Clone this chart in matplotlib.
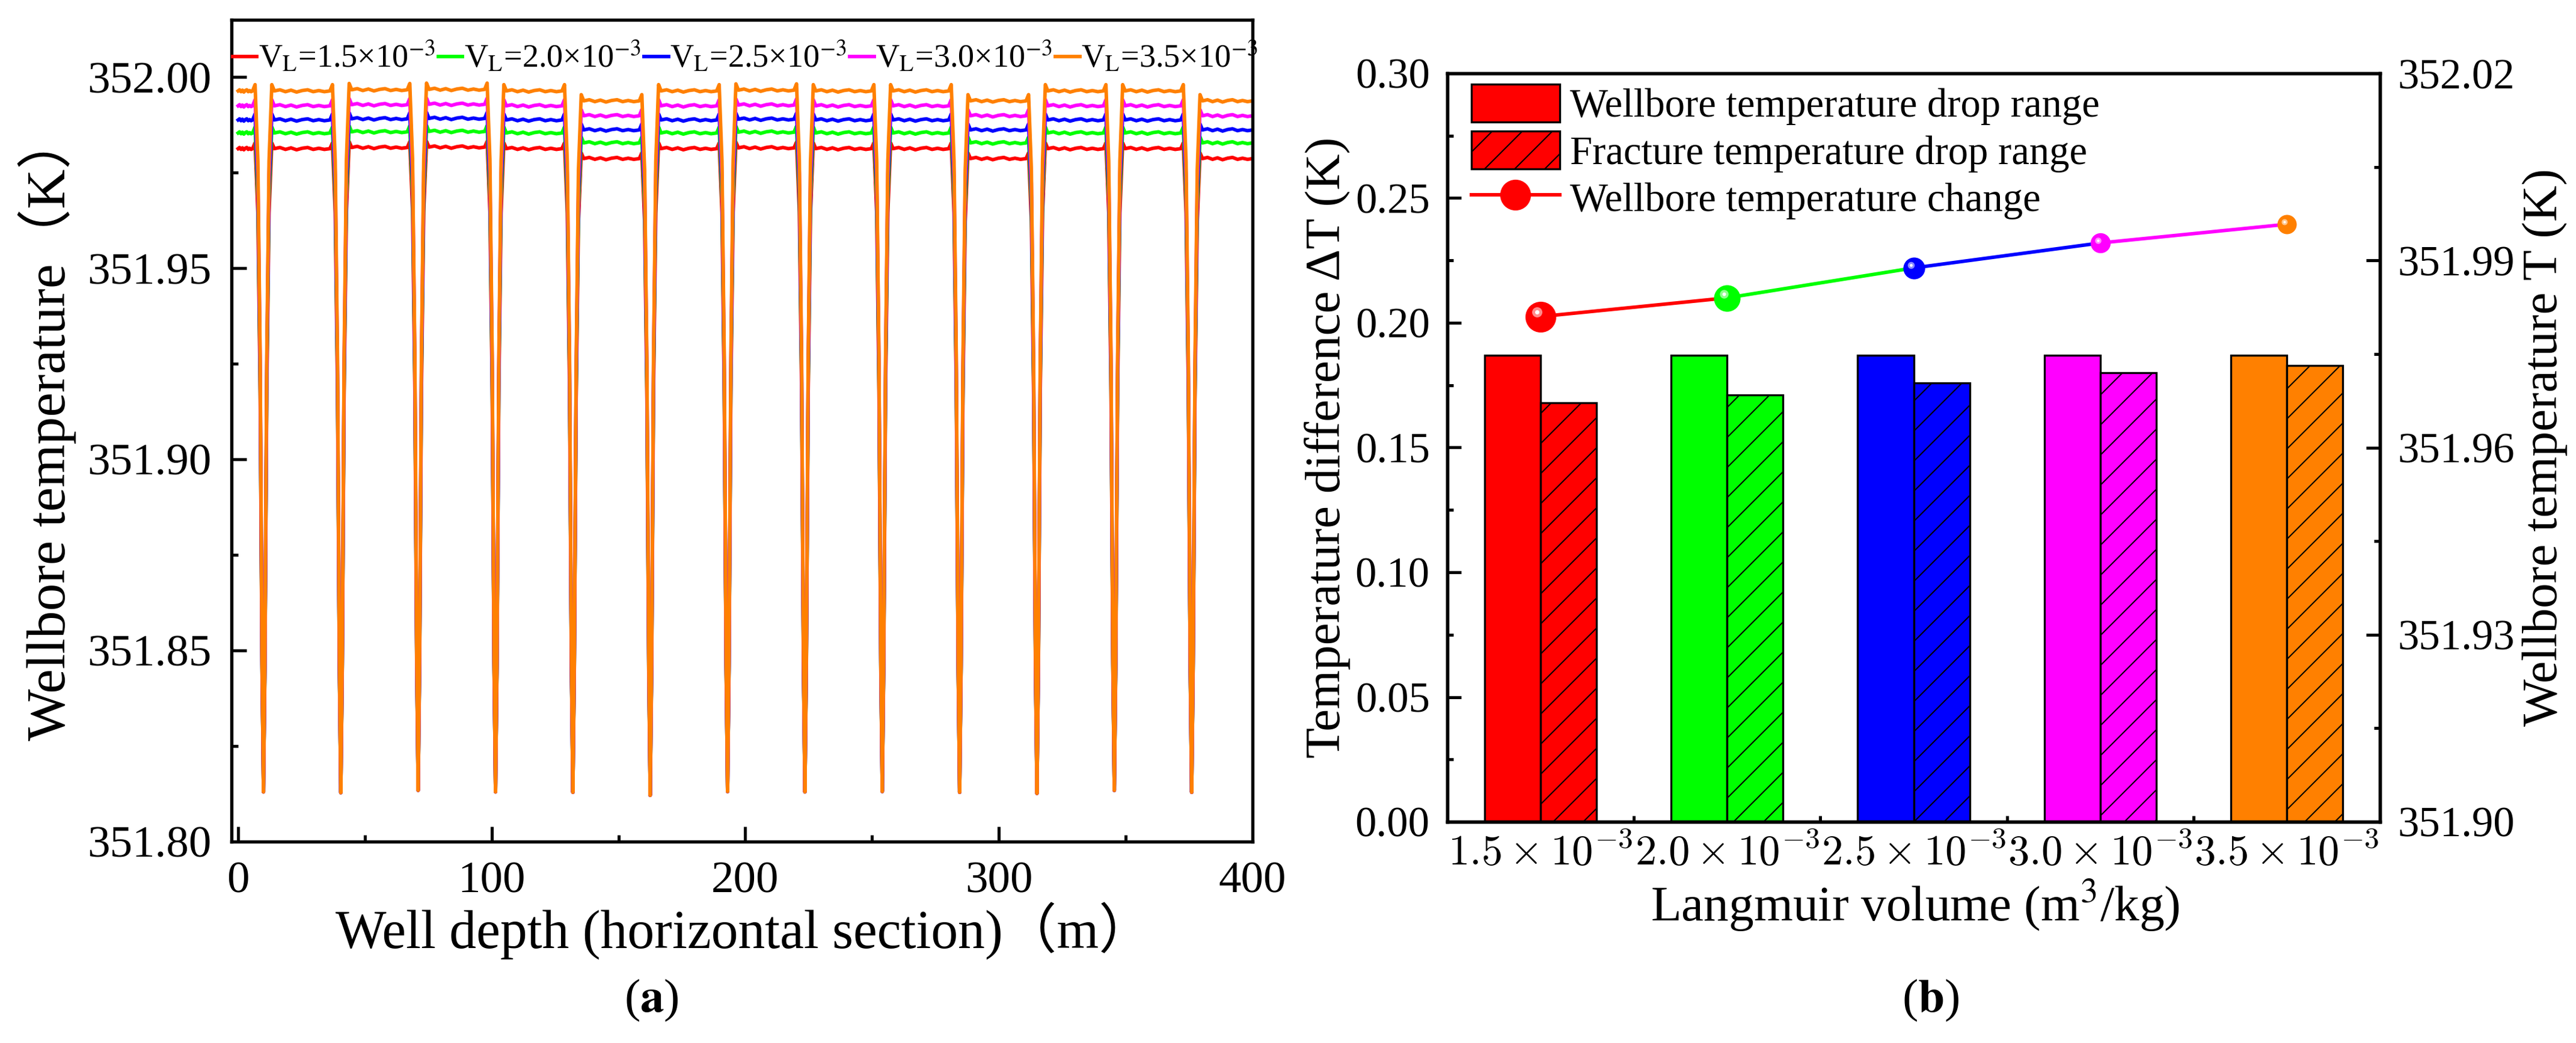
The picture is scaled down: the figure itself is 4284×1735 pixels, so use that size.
import numpy as np
import matplotlib
matplotlib.use('Agg')
import matplotlib.pyplot as plt
from matplotlib.lines import Line2D
from matplotlib.patches import Patch
from matplotlib.ticker import MultipleLocator, FormatStrFormatter
import matplotlib.transforms as mtransforms
import matplotlib.colors as mcolors

plt.rcParams['font.family'] = ['Liberation Serif', 'Noto Sans CJK SC', 'DejaVu Sans']
plt.rcParams['mathtext.fontset'] = 'stix'
plt.rcParams['hatch.linewidth'] = 0.5
plt.rcParams['axes.linewidth'] = 1.3

# ---------------- data: panel (a) ----------------
vl_labels = ['1.5', '2.0', '2.5', '3.0', '3.5']
series_colors = ['#FF0000', '#00FF00', '#0000FF', '#FF00FF', '#FF8000']
base_level = [351.9813, 351.9854, 351.9888, 351.9925, 351.9964]
dip_x = [10.0, 40.5, 71.0, 101.5, 132.0, 162.5, 193.0, 223.5, 254.0, 284.5, 315.0, 345.5, 376.0]
dip_min = [351.8130, 351.8128, 351.8134, 351.8130, 351.8129, 351.8121, 351.8131,
           351.8130, 351.8131, 351.8129, 351.8126, 351.8134, 351.8129]
segment_shift = [0.0, 0.0, 0.0003, 0.0004, 0.0, -0.0026, 0.0, 0.0002, 0.0, 0.0,
                 -0.0026, 0.0, 0.0, -0.0026]
dip_dx = [-4.3, -3.3, -2.2, -1.3, -0.57, 0.0, 0.57, 1.3, 2.2, 3.3, 4.3]
dip_frac = [0.0, -0.009, 0.10, 0.38, 0.81, 1.0, 0.81, 0.38, 0.10, -0.009, 0.0]
ripple = [0.0003, -0.0002, 0.0002, -0.0003, 0.0001, 0.0003, -0.0002, 0.0001, -0.0002]
depth_start, depth_end = 0.0, 400.0

# ---------------- data: panel (b) ----------------
langmuir_labels = [r'$1.5\times10^{-3}$', r'$2.0\times10^{-3}$', r'$2.5\times10^{-3}$',
                   r'$3.0\times10^{-3}$', r'$3.5\times10^{-3}$']
wellbore_drop = [0.187, 0.187, 0.187, 0.187, 0.187]
fracture_drop = [0.168, 0.171, 0.176, 0.180, 0.183]
wellbore_T = [351.9810, 351.9840, 351.9888, 351.9928, 351.9958]
marker_sizes = [11.3, 9.6, 7.7, 7.0, 6.7]


def build_curve(base):
    xs, ys = [], []
    n = len(dip_x)
    for s in range(n + 1):
        level = base + segment_shift[s]
        left = depth_start if s == 0 else dip_x[s - 1] + dip_dx[-1]
        right = depth_end if s == n else dip_x[s] + dip_dx[0]
        px = np.linspace(left, right, len(ripple) + 2)
        xs += list(px)
        ys += [level] + [level + r for r in ripple] + [level]
        if s < n:
            lvl_r = base + segment_shift[s + 1]
            for dx, f in zip(dip_dx[1:-1], dip_frac[1:-1]):
                lv = level if dx <= 0 else lvl_r
                xs.append(dip_x[s] + dx)
                ys.append(lv + f * (dip_min[s] - lv))
    return np.array(xs), np.array(ys)


W, H = 4284, 1735
fig = plt.figure(figsize=(W / 300, H / 300), dpi=300)


def px_axes(x0, y0, x1, y1):
    return fig.add_axes([x0 / W, (H - y1) / H, (x1 - x0) / W, (y1 - y0) / H])


# ---------------- panel (a) ----------------
ax1 = px_axes(385, 33, 2083, 1400)
handles = []
for lab, col, base in zip(vl_labels, series_colors, base_level):
    xs, ys = build_curve(base)
    ln, = ax1.plot(xs, ys, color=col, lw=1.4, solid_joinstyle='round',
                   label='V$_{\\mathrm{L}}$=' + lab + '×10$^{-3}$')
    handles.append(ln)
ax1.set_xlim(-2.6, 400)
ax1.set_ylim(351.80, 352.015)
ax1.xaxis.set_major_locator(MultipleLocator(100))
ax1.xaxis.set_minor_locator(MultipleLocator(50))
ax1.yaxis.set_major_locator(MultipleLocator(0.05))
ax1.yaxis.set_minor_locator(MultipleLocator(0.025))
ax1.yaxis.set_major_formatter(FormatStrFormatter('%.2f'))
ax1.tick_params(which='both', direction='in', top=False, right=False, width=1.2)
ax1.tick_params(which='major', length=6, labelsize=18)
ax1.tick_params(which='minor', length=2.7)
ax1.tick_params(axis='x', which='major', pad=8)
ax1.tick_params(axis='y', which='major', pad=8)
ax1.set_ylabel('Wellbore temperature（K）', fontsize=22, va='baseline', ha='left')
ax1.yaxis.set_label_coords((108 - 385) / 1698, (1400 - 1232) / 1367)
ax1.set_xlabel('Well depth (horizontal section)（m）', fontsize=21.5, va='baseline')
ax1.xaxis.set_label_coords((1237 - 385) / 1698, (1400 - 1578) / 1367)
leg1 = ax1.legend(handles=handles, loc='upper left', bbox_to_anchor=(0.001, 0.975),
                  ncol=5, frameon=False, fontsize=13, handlelength=0.75,
                  handletextpad=0.05, columnspacing=0.1, borderpad=0, borderaxespad=0)

# ---------------- panel (b) ----------------
ax2 = px_axes(2407, 122, 3958, 1367)
cat = np.arange(len(langmuir_labels))
bw = 0.3
for i, col in enumerate(series_colors):
    ax2.bar(cat[i] - bw / 2, wellbore_drop[i], width=bw, color=col,
            edgecolor='black', linewidth=0.8, zorder=2)
    ax2.bar(cat[i] + bw / 2, fracture_drop[i], width=bw, color=col,
            edgecolor='black', linewidth=0.8, hatch='//', zorder=2)
ax2.set_xlim(-0.5, 4.5)
ax2.set_ylim(0, 0.30)
ax2.set_xticks(cat)
ax2.set_xticklabels(langmuir_labels, math_fontfamily='cm', fontsize=17)
ax2.set_xticks(cat[:-1] + 0.5, minor=True)
ax2.yaxis.set_major_locator(MultipleLocator(0.05))
ax2.yaxis.set_minor_locator(MultipleLocator(0.025))
ax2.yaxis.set_major_formatter(FormatStrFormatter('%.2f'))
ax2.tick_params(which='both', direction='in', top=False, right=False, width=1.2)
ax2.tick_params(which='major', length=5.5, labelsize=17)
ax2.tick_params(which='minor', length=2.5)
ax2.tick_params(axis='x', which='major', pad=5)
ax2.tick_params(axis='y', which='major', pad=7)
ax2.set_ylabel('Temperature difference ΔT (K)', fontsize=20, va='baseline')
ax2.yaxis.set_label_coords((2228 - 2407) / 1551, 0.5)
ax2.set_xlabel('Langmuir volume (m$^{3}$/kg)', fontsize=20, va='baseline')
ax2.xaxis.set_label_coords((3185 - 2407) / 1551, (1367 - 1532) / 1245)

ax2r = ax2.twinx()
ax2r.set_ylim(351.90, 352.02)
ax2r.yaxis.set_major_locator(MultipleLocator(0.03))
ax2r.yaxis.set_minor_locator(MultipleLocator(0.015))
ax2r.yaxis.set_major_formatter(FormatStrFormatter('%.2f'))
ax2r.tick_params(which='both', direction='in', width=1.2)
ax2r.tick_params(which='major', length=5.5, labelsize=17, pad=7)
ax2r.tick_params(which='minor', length=2.5)
ax2r.set_ylabel('Wellbore temperature T (K)', fontsize=20, va='baseline', rotation=90)
ax2r.yaxis.set_label_coords((4252 - 2407) / 1551, 0.5)

for i in range(len(cat) - 1):
    ax2r.plot(cat[i:i + 2], wellbore_T[i:i + 2], color=series_colors[i], lw=1.4, zorder=2)
for xi, ti, col, ms in zip(cat, wellbore_T, series_colors, marker_sizes):
    ax2r.plot([xi], [ti], 'o', color=col, mec=col, ms=ms, zorder=3)
    rgb = np.array(mcolors.to_rgb(col))
    light = 0.45 * rgb + 0.55
    tr = ax2r.transData + mtransforms.ScaledTranslation(-ms * 0.14 / 72, ms * 0.16 / 72,
                                                        fig.dpi_scale_trans)
    ax2r.plot([xi], [ti], 'o', color=light, mec='none', ms=ms * 0.36, transform=tr, zorder=4)
    ax2r.plot([xi], [ti], 'o', color='white', mec='none', ms=ms * 0.15, transform=tr, zorder=5)

leg_handles = [
    Patch(facecolor=series_colors[0], edgecolor='black', linewidth=0.8),
    Patch(facecolor=series_colors[0], edgecolor='black', linewidth=0.8, hatch='//'),
    Line2D([], [], color=series_colors[0], lw=1.4, marker='o', ms=marker_sizes[0]),
]
leg_labels = ['Wellbore temperature drop range', 'Fracture temperature drop range',
              'Wellbore temperature change']
ax2r.legend(leg_handles, leg_labels, loc='upper left', bbox_to_anchor=(0.0258, 0.9855),
            frameon=False, fontsize=16, handlelength=2.2, handleheight=1.08,
            handletextpad=0.26, labelspacing=0.15, borderpad=0, borderaxespad=0)

# ---------------- captions ----------------
fig.text(1083 / W, (H - 1683) / H, r'($\mathbf{a}$)', ha='center', va='baseline', fontsize=19)
fig.text(3211 / W, (H - 1683) / H, r'($\mathbf{b}$)', ha='center', va='baseline', fontsize=19)

fig.savefig('out.png', dpi=300)
